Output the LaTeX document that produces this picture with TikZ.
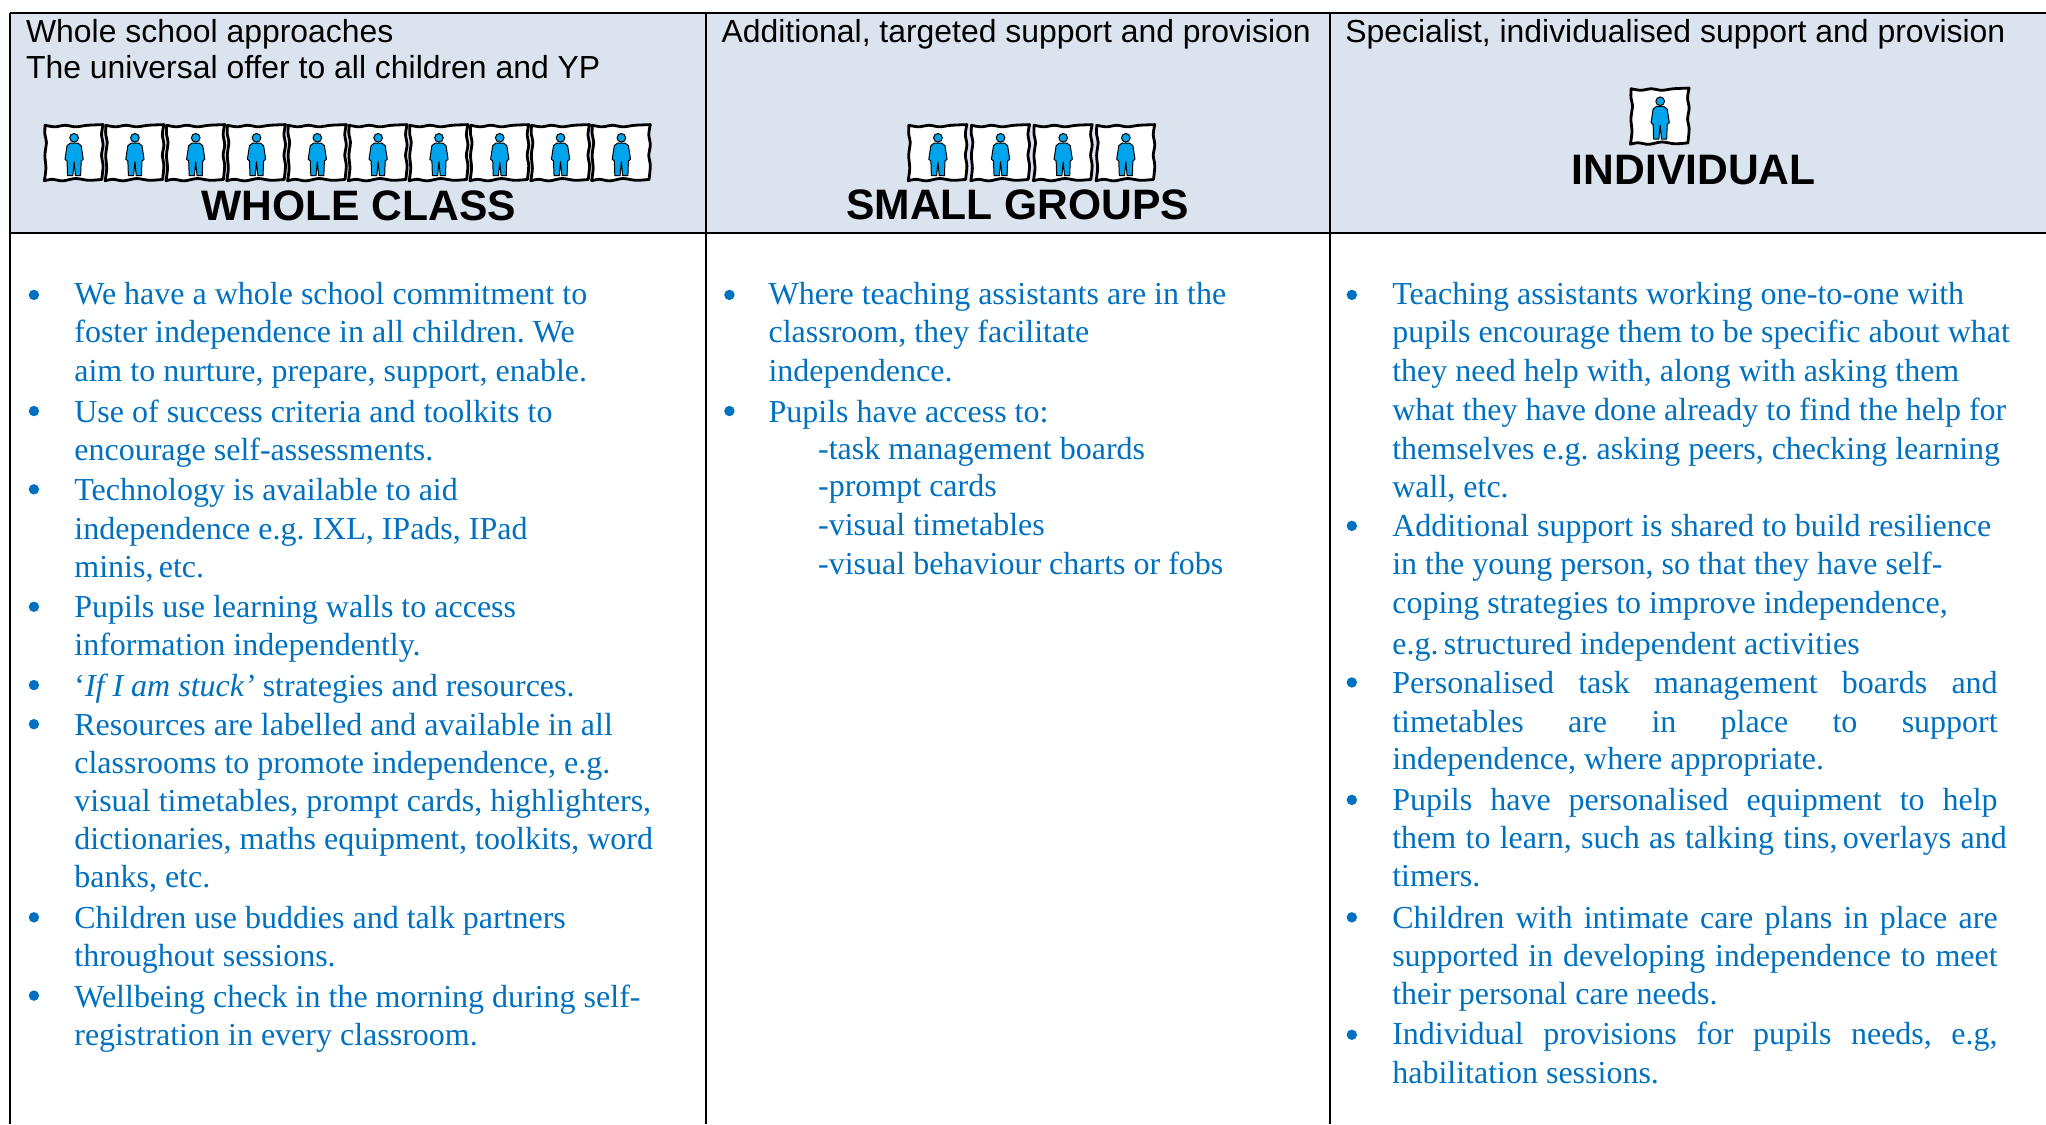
\documentclass[tikz,border=0pt]{standalone}
\usepackage{fontspec}
\setmainfont{Liberation Serif}
\newfontfamily\hf{Liberation Sans}
\definecolor{hdrfill}{HTML}{DBE3EF}
\definecolor{bodyblue}{HTML}{0070C0}
\definecolor{kidblue}{HTML}{00A4EC}
\tikzset{
  txt/.style={anchor=base west,inner sep=0pt,outer sep=0pt,text=bodyblue,font=\fontsize{16pt}{19pt}\selectfont\frenchspacing},
  hdr/.style={anchor=base west,inner sep=0pt,outer sep=0pt,text=black,font=\hf\fontsize{15.96pt}{19pt}\selectfont},
  big/.style={anchor=base,inner sep=0pt,outer sep=0pt,text=black,font=\hf\bfseries\fontsize{21.3pt}{24pt}\selectfont},
  bul/.style={circle,fill=bodyblue,inner sep=0pt,minimum size=5.2pt},
  gridline/.style={black,line width=1pt},
  kid/.pic={
    \draw[fill=white,line width=1.4pt,line join=round]
      plot[smooth,tension=.5] coordinates {(0.5,1)(8,2.2)(16,1)(24,2.2)(33,1)(45,0.5)}
      -- plot[smooth,tension=.5] coordinates {(45,0.5)(43.8,8)(45,16)(43.8,24)(45,32)(44,42.5)}
      -- plot[smooth,tension=.5] coordinates {(44,42.5)(34,43.2)(24,41.8)(14,43.6)(6,42.4)(0,43.5)}
      -- plot[smooth,tension=.5] coordinates {(0,43.5)(1.2,34)(0.4,24)(1.6,14)(0.4,8)(0.5,1)} -- cycle;
    \draw[fill=kidblue,line width=.5pt,line join=round]
      (20,14.6) -- (25.6,14.6) -- (28.2,16.6) -- (29.8,27) -- (28.2,28.4) -- (27.8,39.6) -- (23.8,39.6) -- (22.8,29) -- (21.8,39.6) -- (17.8,39.6) -- (17.4,28.4) -- (15.8,27) -- (17.4,16.6) -- cycle;
    \draw[fill=kidblue,line width=.5pt] (22.8,10.6) circle[radius=3.3];
  }
}
\begin{document}
\begin{tikzpicture}[x=0.65242pt,y=-0.65242pt]
\useasboundingbox (0,0) rectangle (1568,861.4);
\fill[white] (0,0) rectangle (1568,861.4);
\fill[hdrfill] (8,10) rectangle (1568,178);
\draw[gridline] (8,10) -- (1568,10);
\draw[gridline] (8,178.5) -- (1568,178.5);
\draw[gridline] (8,10) -- (8,861.4);
\draw[gridline] (541,10) -- (541,861.4);
\draw[gridline] (1019.5,10) -- (1019.5,861.4);
% headers
\node[hdr] (h1a) at (20,32.3) {Whole school approaches};
\node[hdr] (h1b) at (20,60.5) {The universal offer to all children and YP};
\node[hdr] (h2) at (553,32.3) {Additional, targeted support and provision};
\node[hdr] (h3) at (1031,32.3) {Specialist, individualised support and provision};
\foreach \i in {0,...,9} \pic at ({34+46.6*\i},95) {kid};
\foreach \i in {0,...,3} \pic at ({696+48*\i},95) {kid};
\pic at (1249.5,67) {kid};
\node[big] (b1) at (275,169.2) {WHOLE CLASS};
\node[big] (b2) at (780,168.2) {SMALL GROUPS};
\node[big] (b3) at (1298,141.2) {INDIVIDUAL};
% column 1
\foreach \y in {226,315,375,465,525,555,703,763} \node[bul] at (26,\y) {};
\node[txt] (a1) at (57,233.7) {We have a whole school commitment to};
\node[txt] (a2) at (57,262.7) {foster independence in all children. We};
\node[txt] (a3) at (57,292.5) {aim to nurture, prepare, support, enable.};
\node[txt] (a4) at (57,323.5) {Use of success criteria and toolkits to};
\node[txt] (a5) at (57,352.7) {encourage self-assessments.};
\node[txt] (a6) at (57,383.5) {Technology is available to aid};
\node[txt] (a7) at (57,413.5) {independence e.g. IXL, IPads, IPad};
\node[txt] (a8) at (57,442.5) {minis,\,etc.};
\node[txt] (a9) at (57,473.5) {Pupils use learning walls to access};
\node[txt] (a10) at (57,502.5) {information independently.};
\node[txt] (a11) at (57,533.5) {‘\textit{If I am stuck’} strategies and resources.};
\node[txt] (a12) at (57,563.5) {Resources are labelled and available in all};
\node[txt] (a13) at (57,592.5) {classrooms to promote independence, e.g.};
\node[txt] (a14) at (57,622.2) {visual timetables, prompt cards, highlighters,};
\node[txt] (a15) at (57,651.2) {dictionaries, maths equipment, toolkits, word};
\node[txt] (a16) at (57,680.5) {banks, etc.};
\node[txt] (a17) at (57,711.5) {Children use buddies and talk partners};
\node[txt] (a18) at (57,740.5) {throughout sessions.};
\node[txt] (a19) at (57,772.2) {Wellbeing check in the morning during self-};
\node[txt] (a20) at (57,801.2) {registration in every classroom.};
% column 2
\foreach \y in {226,315} \node[bul] at (559,\y) {};
\node[txt] (b4) at (589,233.7) {Where teaching assistants are in the};
\node[txt] (b5) at (589,262.7) {classroom, they facilitate};
\node[txt] (b6) at (589,292.5) {independence.};
\node[txt] (b7) at (589,323.5) {Pupils have access to:};
\node[txt] (b8) at (627,352.5) {-task management boards};
\node[txt] (b9) at (627,380.5) {-prompt cards};
\node[txt] (b10) at (627,410.5) {-visual timetables};
\node[txt] (b11) at (627,440.5) {-visual behaviour charts or fobs};
% column 3
\foreach \y in {226,403,523,613,703,793} \node[bul] at (1036,\y) {};
\node[txt] (c1) at (1067,233.7) {Teaching assistants working one-to-one with};
\node[txt] (c2) at (1067,262.7) {pupils encourage them to be specific about what};
\node[txt] (c3) at (1067,292) {they need help with, along with asking them};
\node[txt] (c4) at (1067,322.2) {what they have done already to find the help for};
\node[txt] (c5) at (1067,352) {themselves e.g. asking peers, checking learning};
\node[txt] (c6) at (1067,381) {wall, etc.};
\node[txt] (c7) at (1067,411.5) {Additional support is shared to build resilience};
\node[txt] (c8) at (1067,440.5) {in the young person, so that they have self-};
\node[txt] (c9) at (1067,470.5) {coping strategies to improve independence,};
\node[txt] (c10) at (1067,501.2) {e.g.\,structured independent activities};
\node[txt] (c11) at (1067,531.5) {\makebox[302.7pt][s]{Personalised task management boards and}};
\node[txt] (c12) at (1067,561) {\makebox[302.7pt][s]{timetables are in place to support}};
\node[txt] (c13) at (1067,590) {independence, where appropriate.};
\node[txt] (c14) at (1067,621) {\makebox[302.7pt][s]{Pupils have personalised equipment to help}};
\node[txt] (c15) at (1067,650.5) {\makebox[307.3pt][s]{them to learn, such as talking tins,\,overlays and}};
\node[txt] (c16) at (1067,679.5) {timers.};
\node[txt] (c17) at (1067,711.5) {\makebox[302.7pt][s]{Children with intimate care plans in place are}};
\node[txt] (c18) at (1067,740.5) {\makebox[302.7pt][s]{supported in developing independence to meet}};
\node[txt] (c19) at (1067,769.5) {their personal care needs.};
\node[txt] (c20) at (1067,800.8) {\makebox[302.7pt][s]{Individual provisions for pupils needs, e.g,}};
\node[txt] (c21) at (1067,830.5) {habilitation sessions.};
\end{tikzpicture}
\end{document}
